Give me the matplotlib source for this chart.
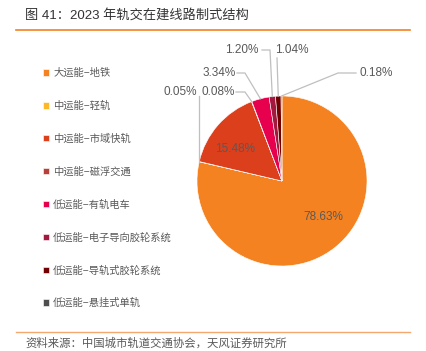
import matplotlib
matplotlib.use("Agg")
import matplotlib.pyplot as plt
from matplotlib.lines import Line2D
import numpy as np

plt.rcParams['font.family'] = ['Liberation Sans', 'Noto Sans CJK SC']

# data
categories = ['大运能−地铁', '中运能−轻轨', '中运能−市域快轨', '中运能−磁浮交通',
              '低运能−有轨电车', '低运能−电子导向胶轮系统', '低运能−导轨式胶轮系统',
              '低运能−悬挂式单轨']
shares = [78.63, 0.05, 15.48, 0.08, 3.34, 1.20, 1.04, 0.18]
colors = ['#F58220', '#FBB829', '#DC3F1C', '#B5413A', '#E6004E', '#A3183F',
          '#720000', '#4E4E4E']

W, H = 427, 351
fig = plt.figure(figsize=(W / 100, H / 100), dpi=100)

cx, cy, R = 282, 181, 85
ax = fig.add_axes([(cx - R) / W, (H - cy - R) / H, 2 * R / W, 2 * R / H])
wedges, _ = ax.pie(shares, colors=colors, startangle=90, counterclock=False,
                   radius=1, wedgeprops=dict(edgecolor='white', linewidth=0.4))
ax.set_xlim(-1, 1)
ax.set_ylim(-1, 1)
ax.set_clip_on(False)

lab_color = '#595959'
line_color = '#BFBFBF'


def px(x, y):
    # pixel position -> pie data coords
    return (x - cx) / R, (cy - y) / R


def edge(w, r=1.0):
    a = np.deg2rad((w.theta1 + w.theta2) / 2)
    return r * np.cos(a), r * np.sin(a)


def fmt(v):
    return f'{v:.2f}%'


# inside labels
for i, pos in [(0, (323, 217)), (2, (235, 149))]:
    ax.text(*px(*pos), fmt(shares[i]), ha='center', va='center',
            fontsize=8.5, color=lab_color)

# outside labels: index, text pos, alignment, elbow points (pixels)
outside = [
    (1, (197, 92), 'right', [(199, 96)]),
    (3, (202, 92), 'left', [(236, 92), (245, 92)]),
    (4, (203, 73), 'left', [(237, 73), (245, 73)]),
    (5, (225, 50), 'left', [(262, 50), (270, 50)]),
    (6, (275, 50), 'left', [(277, 58)]),
    (7, (359, 73), 'left', [(356, 73), (338, 73)]),
]
for i, tpos, ha, pts in outside:
    ax.text(*px(*tpos), fmt(shares[i]), ha=ha, va='center',
            fontsize=8.5, color=lab_color)
    xs = [px(*p)[0] for p in pts]
    ys = [px(*p)[1] for p in pts]
    ex, ey = edge(wedges[i], 1.0)
    if i == 1:
        a = np.deg2rad(wedges[i].theta1)
        ex, ey = np.cos(a), np.sin(a)
        xs[0] = ex
    xs.append(ex)
    ys.append(ey)
    ax.plot(xs, ys, color=line_color, lw=0.9, clip_on=False)

# legend
fig.legend(wedges, categories, loc='upper left',
           bbox_to_anchor=(43 / W, (H - 68) / H), frameon=False,
           fontsize=7.4, labelcolor=lab_color, handlelength=0.57,
           handleheight=0.57, handletextpad=0.42, labelspacing=2.2,
           borderpad=0, borderaxespad=0)

# title, rules, source
fig.text(25 / W, (H - 15) / H, '图 41：2023 年轨交在建线路制式结构',
         fontsize=9.5, color='#333333', va='center', ha='left')
fig.add_artist(Line2D([16 / W, 410 / W], [(H - 30) / H] * 2,
                      color='#F58220', lw=1.2))
fig.add_artist(Line2D([16 / W, 410 / W], [(H - 332) / H] * 2,
                      color='#F4A870', lw=1.0))
fig.text(25 / W, (H - 343) / H, '资料来源：中国城市轨道交通协会，天风证券研究所',
         fontsize=8.2, color='#595959', va='center', ha='left')

fig.savefig('out.png', dpi=100)
